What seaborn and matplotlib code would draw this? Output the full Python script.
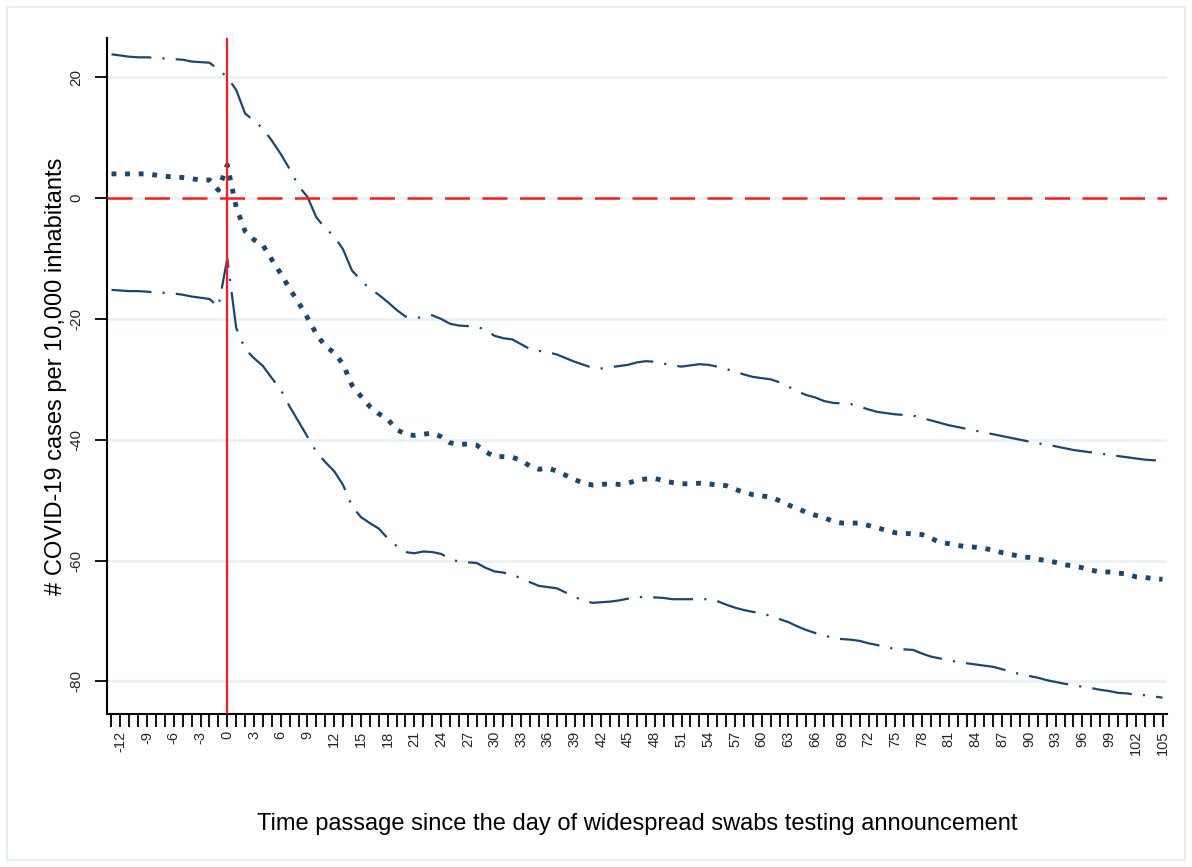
import numpy as np
import pandas as pd
import seaborn as sns
import matplotlib.pyplot as plt
from matplotlib.patches import Rectangle

# days since the announcement
days = list(range(-13, 106))

# upper confidence bound
upper = [23.8, 23.6, 23.4, 23.3, 23.3, 23.2, 23.1, 23.0, 22.9, 22.6, 22.5, 22.4, 21.3,
         20.0, 17.9, 14.0, 12.8, 11.5, 9.5, 7.3, 4.8, 2.0, 0.2,
         -3.2, -5.0, -6.3, -8.5, -12.0, -13.6, -15.0, -16.0, -17.2, -18.5,
         -19.6, -19.9, -19.7, -19.4, -20.0, -20.8, -21.1, -21.2, -21.3, -21.8,
         -22.8, -23.2, -23.4, -24.2, -25.0, -25.3, -25.5, -25.9, -26.5, -27.1,
         -27.6, -28.1, -28.2, -28.0, -27.8, -27.6, -27.2, -27.0, -27.1, -27.4,
         -27.7, -27.9, -27.7, -27.5, -27.6, -27.9, -28.3, -28.7, -29.2, -29.6,
         -29.8, -30.0, -30.5, -31.2, -32.0, -32.6, -33.0, -33.6, -33.9, -34.0,
         -34.1, -34.5, -35.0, -35.4, -35.6, -35.8, -35.9, -36.0, -36.4, -36.8,
         -37.2, -37.6, -37.9, -38.2, -38.5, -38.8, -39.1, -39.4, -39.7, -40.0,
         -40.3, -40.6, -40.8, -41.1, -41.4, -41.7, -41.9, -42.1, -42.3, -42.5,
         -42.7, -42.9, -43.1, -43.3, -43.4, -43.5]

# point estimate
estimate = [4.0, 4.0, 4.0, 4.0, 4.0, 3.8, 3.6, 3.5, 3.4, 3.2, 3.0, 3.0, 1.3,
            5.5, -1.5, -5.5, -6.9, -7.8, -10.2, -12.5, -15.0, -17.3, -19.8,
            -22.5, -24.5, -25.6, -27.5, -31.0, -32.8, -34.5, -35.7, -36.6, -38.3,
            -39.1, -39.3, -39.1, -38.9, -39.5, -40.5, -40.8, -40.7, -40.9, -42.0,
            -42.8, -42.8, -42.9, -43.4, -44.4, -44.9, -44.7, -45.2, -45.9, -46.6,
            -47.2, -47.5, -47.4, -47.3, -47.4, -47.2, -46.7, -46.5, -46.4, -46.8,
            -47.1, -47.3, -47.3, -47.2, -47.3, -47.5, -47.6, -48.2, -48.7, -49.1,
            -49.3, -49.5, -50.1, -50.8, -51.4, -52.0, -52.5, -52.9, -53.5, -53.8,
            -53.8, -53.8, -54.2, -54.6, -55.0, -55.4, -55.5, -55.6, -55.7, -56.3,
            -57.0, -57.2, -57.5, -57.7, -57.8, -58.0, -58.3, -58.7, -59.0, -59.3,
            -59.5, -59.8, -60.0, -60.3, -60.7, -60.9, -61.2, -61.6, -61.9, -61.9,
            -62.1, -62.2, -62.7, -62.8, -63.0, -63.1]

# lower confidence bound
lower = [-15.2, -15.3, -15.4, -15.4, -15.5, -15.6, -15.7, -15.8, -16.0, -16.3, -16.5, -16.7, -18.0,
         -10.0, -21.5, -25.0, -26.5, -27.8, -29.8, -31.7, -34.5, -37.0, -39.5,
         -42.0, -43.7, -45.2, -47.5, -51.0, -52.8, -53.8, -54.7, -56.3, -57.6,
         -58.6, -58.8, -58.5, -58.6, -58.9, -59.7, -60.2, -60.3, -60.4, -61.2,
         -61.8, -62.0, -62.4, -62.9, -63.6, -64.2, -64.4, -64.6, -65.3, -66.0,
         -66.7, -67.0, -66.9, -66.8, -66.6, -66.3, -66.0, -66.1, -66.1, -66.2,
         -66.4, -66.4, -66.4, -66.4, -66.4, -66.7, -67.3, -67.8, -68.2, -68.5,
         -68.7, -69.2, -69.7, -70.2, -70.9, -71.5, -72.0, -72.4, -72.8, -73.0,
         -73.1, -73.3, -73.7, -74.0, -74.4, -74.6, -74.7, -74.8, -75.4, -75.9,
         -76.2, -76.5, -76.8, -77.0, -77.2, -77.4, -77.6, -78.0, -78.4, -78.8,
         -79.1, -79.4, -79.8, -80.1, -80.4, -80.6, -80.9, -81.1, -81.4, -81.6,
         -81.9, -82.0, -82.2, -82.3, -82.5, -82.7]

y_ticks = [-80, -60, -40, -20, 0, 20]
x_labels = list(range(-12, 106, 3))

df = pd.DataFrame({'day': days, 'upper': upper, 'estimate': estimate, 'lower': lower})

sns.set_theme(style='white')
plt.rcParams['font.family'] = ['Liberation Sans', 'DejaVu Sans']

navy = '#1a476f'
fig = plt.figure(figsize=(11.92, 8.67), dpi=100)
ax = fig.add_axes([0.0898, 0.1765, 0.8892, 0.7797])

# faint outer frame like the stata graph region
fig.patches.append(Rectangle((7 / 1192, 7 / 867), 1178 / 1192, 853 / 867,
                             transform=fig.transFigure, fill=False,
                             edgecolor='#e6eff1', linewidth=1.5))

for y in y_ticks:
    ax.axhline(y, color='#eaf2f3', lw=2, zorder=0)

sns.lineplot(data=df, x='day', y='upper', ax=ax, color=navy, lw=1.6,
             dashes=False, errorbar=None)
sns.lineplot(data=df, x='day', y='lower', ax=ax, color=navy, lw=1.6,
             dashes=False, errorbar=None)
sns.lineplot(data=df, x='day', y='estimate', ax=ax, color=navy, lw=3.5,
             dashes=False, errorbar=None)
ax.lines[-3].set_dashes((18, 5, 1, 5))
ax.lines[-2].set_dashes((18, 5, 1, 5))
ax.lines[-1].set_dashes((1, 1.8))

ax.axvline(0, color='#ff1a1a', lw=1.6, zorder=3)
ax.axhline(0, color='#ff1a1a', lw=1.8, dashes=(10, 5), zorder=3)

ax.set_xlim(-13.5, 105.5)
ax.set_ylim(-85.4, 26.5)
ax.set_xticks(days)
ax.set_xticklabels([str(d) if d in x_labels else '' for d in days],
                   rotation=90, fontsize=10.5)
ax.set_yticks(y_ticks)
ax.set_yticklabels([str(v) for v in y_ticks], rotation=90, va='center', fontsize=11)
ax.tick_params(axis='both', which='major', length=9, width=1.3, color='black',
               direction='out', pad=3)
ax.tick_params(axis='y', pad=8)
ax.tick_params(axis='both', bottom=True, left=True)

for s in ['top', 'right']:
    ax.spines[s].set_visible(False)
for s in ['left', 'bottom']:
    ax.spines[s].set_color('black')
    ax.spines[s].set_linewidth(1.5)

ax.set_xlabel('Time passage since the day of widespread swabs testing announcement',
              fontsize=17, labelpad=42, color='black')
ax.set_ylabel('# COVID-19 cases per 10,000 inhabitants', fontsize=17,
              labelpad=2, color='black')

fig.savefig('out.png', dpi=100)
